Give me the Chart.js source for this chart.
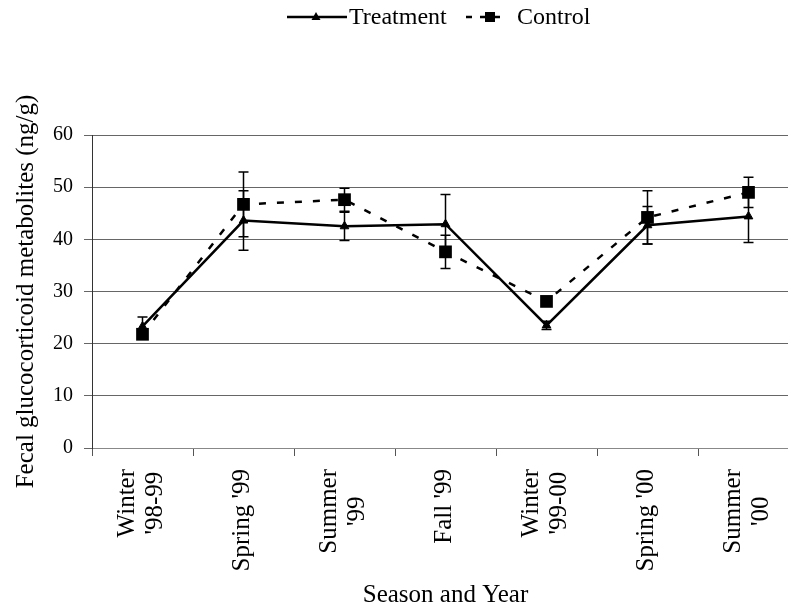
<!DOCTYPE html>
<html>
<head>
<meta charset="utf-8">
<script src="https://cdn.jsdelivr.net/npm/chart.js@4/dist/chart.umd.min.js"></script>
<style>
  html, body { margin: 0; padding: 0; background: #fff; overflow: hidden; }
  #wrap { width: 788px; height: 608px; overflow: hidden; }
</style>
</head>
<body>
<div id="wrap"><canvas id="chart" width="810" height="608"></canvas></div>
<script>
// data
const seasons = [['Winter', "'98-99"], "Spring '99", ['Summer', "'99"], "Fall '99", ['Winter', "'99-00"], "Spring '00", ['Summer', "'00"]];
const treatment = [23.3, 43.6, 42.5, 42.9, 23.5, 42.7, 44.4];
const treatmentErr = [1.8, 5.7, 2.7, 5.7, 0.8, 3.6, 5.0];
const control = [21.8, 46.7, 47.6, 37.6, 28.1, 44.2, 49.0];
const controlErr = [0.9, 6.2, 2.2, 3.2, 0.8, 5.1, 2.9];
const yTicks = [0, 10, 20, 30, 40, 50, 60];

const serif = '"Liberation Serif", "DejaVu Serif", serif';

// error bars, drawn under the markers
const errorBars = {
    id: 'errorBars',
    beforeDatasetsDraw(chart) {
        const ctx = chart.ctx;
        const y = chart.scales.y;
        ctx.save();
        ctx.strokeStyle = '#000';
        ctx.lineWidth = 1.5;
        chart.data.datasets.forEach((ds, i) => {
            const meta = chart.getDatasetMeta(i);
            meta.data.forEach((pt, j) => {
                const e = ds.errors[j];
                const top = y.getPixelForValue(ds.data[j] + e);
                const bot = y.getPixelForValue(ds.data[j] - e);
                ctx.beginPath();
                ctx.moveTo(pt.x, top); ctx.lineTo(pt.x, bot);
                ctx.moveTo(pt.x - 5, top); ctx.lineTo(pt.x + 5, top);
                ctx.moveTo(pt.x - 5, bot); ctx.lineTo(pt.x + 5, bot);
                ctx.stroke();
            });
        });
        ctx.restore();
    }
};

// rotated category labels, the two lines centred on the tick (excel style)
const seasonLabels = {
    id: 'seasonLabels',
    afterDraw(chart) {
        const ctx = chart.ctx;
        const xs = chart.scales.x;
        const top = xs.top + 21;
        ctx.save();
        ctx.fillStyle = '#000';
        ctx.font = '25px ' + serif;
        ctx.textAlign = 'center';
        ctx.textBaseline = 'middle';
        seasons.forEach((lab, i) => {
            const lines = Array.isArray(lab) ? lab : [lab];
            const w = Math.max(...lines.map(l => ctx.measureText(l).width));
            ctx.save();
            ctx.translate(xs.getPixelForValue(i) - 1, top);
            ctx.rotate(-Math.PI / 2);
            lines.forEach((l, k) => ctx.fillText(l, -w / 2, (k - (lines.length - 1) / 2) * 28));
            ctx.restore();
        });
        ctx.restore();
    }
};

// legend like the excel one: line sample + marker + text
const topLegend = {
    id: 'topLegend',
    afterDraw(chart) {
        const ctx = chart.ctx;
        const cy = 17;
        ctx.save();
        ctx.strokeStyle = '#000';
        ctx.fillStyle = '#000';
        ctx.lineWidth = 2.5;
        // Treatment
        ctx.beginPath(); ctx.moveTo(287, cy); ctx.lineTo(347, cy); ctx.stroke();
        ctx.beginPath();
        ctx.moveTo(316, cy - 5); ctx.lineTo(320.5, cy + 3); ctx.lineTo(311.5, cy + 3);
        ctx.closePath(); ctx.fill();
        // Control
        ctx.setLineDash([6, 8]);
        ctx.beginPath(); ctx.moveTo(466, cy); ctx.lineTo(504, cy); ctx.stroke();
        ctx.setLineDash([]);
        ctx.fillRect(485, cy - 5, 10, 10);
        ctx.font = '24px ' + serif;
        ctx.textBaseline = 'middle';
        ctx.textAlign = 'left';
        ctx.fillText('Treatment', 349, cy + 1);
        ctx.fillText('Control', 517, cy + 1);
        ctx.restore();
    }
};

new Chart(document.getElementById('chart'), {
    type: 'line',
    data: {
        labels: seasons,
        datasets: [
            {
                label: 'Treatment',
                data: treatment,
                errors: treatmentErr,
                borderColor: '#000',
                backgroundColor: '#000',
                borderWidth: 2.5,
                pointStyle: 'triangle',
                pointRadius: 5,
                pointBorderWidth: 1,
                tension: 0
            },
            {
                label: 'Control',
                data: control,
                errors: controlErr,
                borderColor: '#000',
                backgroundColor: '#000',
                borderWidth: 2.5,
                borderDash: [7, 11],
                pointStyle: 'rect',
                pointRadius: 9,
                pointBorderWidth: 0,
                tension: 0
            }
        ]
    },
    options: {
        responsive: false,
        devicePixelRatio: 1,
        animation: false,
        layout: { padding: { top: 135, right: 11, left: 0, bottom: 0 } },
        plugins: { legend: { display: false }, tooltip: { enabled: false } },
        scales: {
            x: {
                type: 'category',
                offset: true,
                grid: { drawOnChartArea: false, offset: true, tickLength: 8, color: '#555' },
                border: { color: '#888' },
                ticks: { display: false },
                title: {
                    display: true, text: 'Season and Year', color: '#000', padding: 0,
                    font: { family: serif, size: 25, lineHeight: 1 }
                },
                afterFit(s) { s.height = 160; }
            },
            y: {
                min: 0, max: 60,
                afterBuildTicks(s) { s.ticks = yTicks.map(v => ({ value: v })); },
                grid: { color: '#666', tickLength: 8 },
                border: { color: '#333' },
                ticks: { color: '#000', padding: 11, font: { family: serif, size: 20 } },
                title: {
                    display: true, text: 'Fecal glucocorticoid metabolites (ng/g)', color: '#000',
                    padding: { top: 11, bottom: 0 },
                    font: { family: serif, size: 25, lineHeight: 1.2 }
                },
                afterFit(s) { s.width = 92; }
            }
        }
    },
    plugins: [errorBars, seasonLabels, topLegend]
});
</script>
</body>
</html>
